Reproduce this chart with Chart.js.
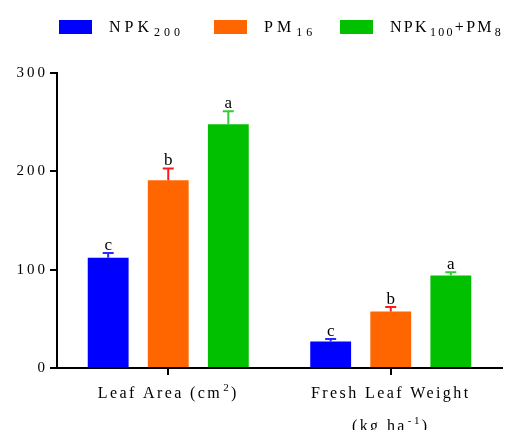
<!DOCTYPE html>
<html>
<head>
<meta charset="utf-8">
<script src="https://cdn.jsdelivr.net/npm/chart.js@4.4.1/dist/chart.umd.min.js"></script>
<style>
  html, body { margin: 0; padding: 0; background: #fff; }
  #wrap { width: 513px; height: 430px; }
</style>
</head>
<body>
<div id="wrap"><canvas id="chart" width="513" height="430"></canvas></div>
<script>
// Categories (multi-line; ^{..} marks superscript, _{..} subscript)
const categories = [['Leaf Area (cm^{2})'], ['Fresh Leaf Weight', '(kg ha^{-1})']];

// Treatment names
const seriesNames = ['NPK_{200}', 'PM_{16}', 'NPK_{100}+PM_{8}'];

// Means per category
const npk200 = [112, 27];
const pm16 = [191, 57.5];
const npk100pm8 = [248, 94];

// Standard errors (drawn upward only)
const npk200Err = [5, 2.5];
const pm16Err = [12, 4.5];
const npk100pm8Err = [13, 3.5];

// Significance letters
const npk200Letters = ['c', 'c'];
const pm16Letters = ['b', 'b'];
const npk100pm8Letters = ['a', 'a'];

// Y axis ticks
const yTicks = [0, 100, 200, 300];

const barColors = ['#0000ff', '#ff6600', '#00c000'];
const errColors = ['#2a2aff', '#ff1a1a', '#33cc33'];
const SERIF = '"Liberation Serif", "Times New Roman", serif';

// Legend layout: swatch left edges and letter spacing per entry
const legendBoxX = [59, 214, 340];
const legendSpacing = [4, 4, 2.3];

// Split "NPK_{100}+PM_{8}" into styled runs
function parseRich(str) {
  const out = [];
  const re = /([_^])\{([^}]*)\}/g;
  let last = 0, m;
  while ((m = re.exec(str)) !== null) {
    if (m.index > last) out.push({ t: str.slice(last, m.index), k: 'n' });
    out.push({ t: m[2], k: m[1] === '_' ? 'sub' : 'sup' });
    last = re.lastIndex;
  }
  if (last < str.length) out.push({ t: str.slice(last), k: 'n' });
  return out;
}

function runFont(k, o) {
  return (k === 'n' ? o.size : o.small) + 'px ' + SERIF;
}

function measureRich(ctx, str, o) {
  let w = 0;
  ctx.save();
  ctx.letterSpacing = o.spacing + 'px';
  for (const r of parseRich(str)) {
    ctx.font = runFont(r.k, o);
    w += ctx.measureText(r.t).width + (r.k !== 'n' ? o.gap : 0);
  }
  ctx.restore();
  return w;
}

function drawRich(ctx, str, x, y, o) {
  const w = measureRich(ctx, str, o);
  let cx = o.align === 'center' ? x - w / 2 : x;
  ctx.save();
  ctx.fillStyle = '#000';
  ctx.textAlign = 'left';
  ctx.textBaseline = 'alphabetic';
  ctx.letterSpacing = o.spacing + 'px';
  for (const r of parseRich(str)) {
    ctx.font = runFont(r.k, o);
    let dy = 0;
    if (r.k === 'sub') { dy = o.subShift; cx += o.gap; }
    if (r.k === 'sup') { dy = -o.supShift; cx += o.gap; }
    ctx.fillText(r.t, cx, y + dy);
    cx += ctx.measureText(r.t).width;
  }
  ctx.restore();
  return w;
}

const errs = [npk200Err, pm16Err, npk100pm8Err];
const letters = [npk200Letters, pm16Letters, npk100pm8Letters];

// Upward error bars with caps, plus letters above them
const errorBarPlugin = {
  id: 'errorBars',
  afterDatasetsDraw(chart) {
    const ctx = chart.ctx;
    const y = chart.scales.y;
    chart.data.datasets.forEach((ds, di) => {
      const meta = chart.getDatasetMeta(di);
      meta.data.forEach((bar, i) => {
        const v = ds.data[i];
        const top = y.getPixelForValue(v + errs[di][i]);
        ctx.save();
        ctx.strokeStyle = errColors[di];
        ctx.lineWidth = 2;
        ctx.beginPath();
        ctx.moveTo(bar.x, bar.y);
        ctx.lineTo(bar.x, top);
        ctx.moveTo(bar.x - 5.5, top);
        ctx.lineTo(bar.x + 5.5, top);
        ctx.stroke();
        ctx.fillStyle = '#000';
        ctx.letterSpacing = '0px';
        ctx.font = '17px ' + SERIF;
        ctx.textAlign = 'center';
        ctx.textBaseline = 'alphabetic';
        ctx.fillText(letters[di][i], bar.x, top - 3);
        ctx.restore();
      });
    });
  }
};

// Category names under the x axis and the legend row on top
const labelPlugin = {
  id: 'labelsAndLegend',
  beforeDraw(chart) {
    chart.ctx.letterSpacing = '3px';
  },
  afterDraw(chart) {
    const ctx = chart.ctx;
    ctx.letterSpacing = '0px';
    const x = chart.scales.x;
    const catOpts = { size: 16, small: 11, spacing: 2.4, gap: 1, subShift: 4, supShift: 7, align: 'center' };
    chart.data.labels.forEach((lines, i) => {
      const cx = x.getPixelForValue(i);
      lines.forEach((ln, li) => {
        drawRich(ctx, ln, cx, 398 + li * 33, catOpts);
      });
    });

    chart.data.datasets.forEach((ds, di) => {
      const bx = legendBoxX[di];
      ctx.save();
      ctx.fillStyle = barColors[di];
      ctx.fillRect(bx, 20, 33, 14);
      ctx.restore();
      const legOpts = { size: 16, small: 12, spacing: legendSpacing[di], gap: 1, subShift: 4, supShift: 7, align: 'left' };
      drawRich(ctx, ds.label, bx + 50, 32, legOpts);
    });
  }
};

new Chart(document.getElementById('chart'), {
  type: 'bar',
  data: {
    labels: categories,
    datasets: [
      { label: seriesNames[0], data: npk200, backgroundColor: barColors[0] },
      { label: seriesNames[1], data: pm16, backgroundColor: barColors[1] },
      { label: seriesNames[2], data: npk100pm8, backgroundColor: barColors[2] }
    ]
  },
  options: {
    responsive: false,
    animation: false,
    devicePixelRatio: 1,
    categoryPercentage: 0.81,
    barPercentage: 0.68,
    layout: { padding: { left: 0, right: 11, top: 73, bottom: 0 } },
    plugins: { legend: { display: false }, tooltip: { enabled: false } },
    scales: {
      x: {
        grid: { display: true, drawOnChartArea: false, drawTicks: true, tickLength: 7, offset: false, color: '#000', lineWidth: 2 },
        border: { display: true, color: '#000', width: 2 },
        ticks: { display: false },
        afterFit(s) { s.height = 62; }
      },
      y: {
        min: 0,
        max: 300,
        afterBuildTicks(s) { s.ticks = yTicks.map(v => ({ value: v })); },
        ticks: { color: '#000', font: { family: SERIF, size: 15 }, padding: 2 },
        grid: { drawOnChartArea: false, drawTicks: true, tickLength: 7, color: '#000', lineWidth: 2 },
        border: { display: true, color: '#000', width: 2 },
        afterFit(s) { s.width = 57; }
      }
    }
  },
  plugins: [errorBarPlugin, labelPlugin]
});
</script>
</body>
</html>
